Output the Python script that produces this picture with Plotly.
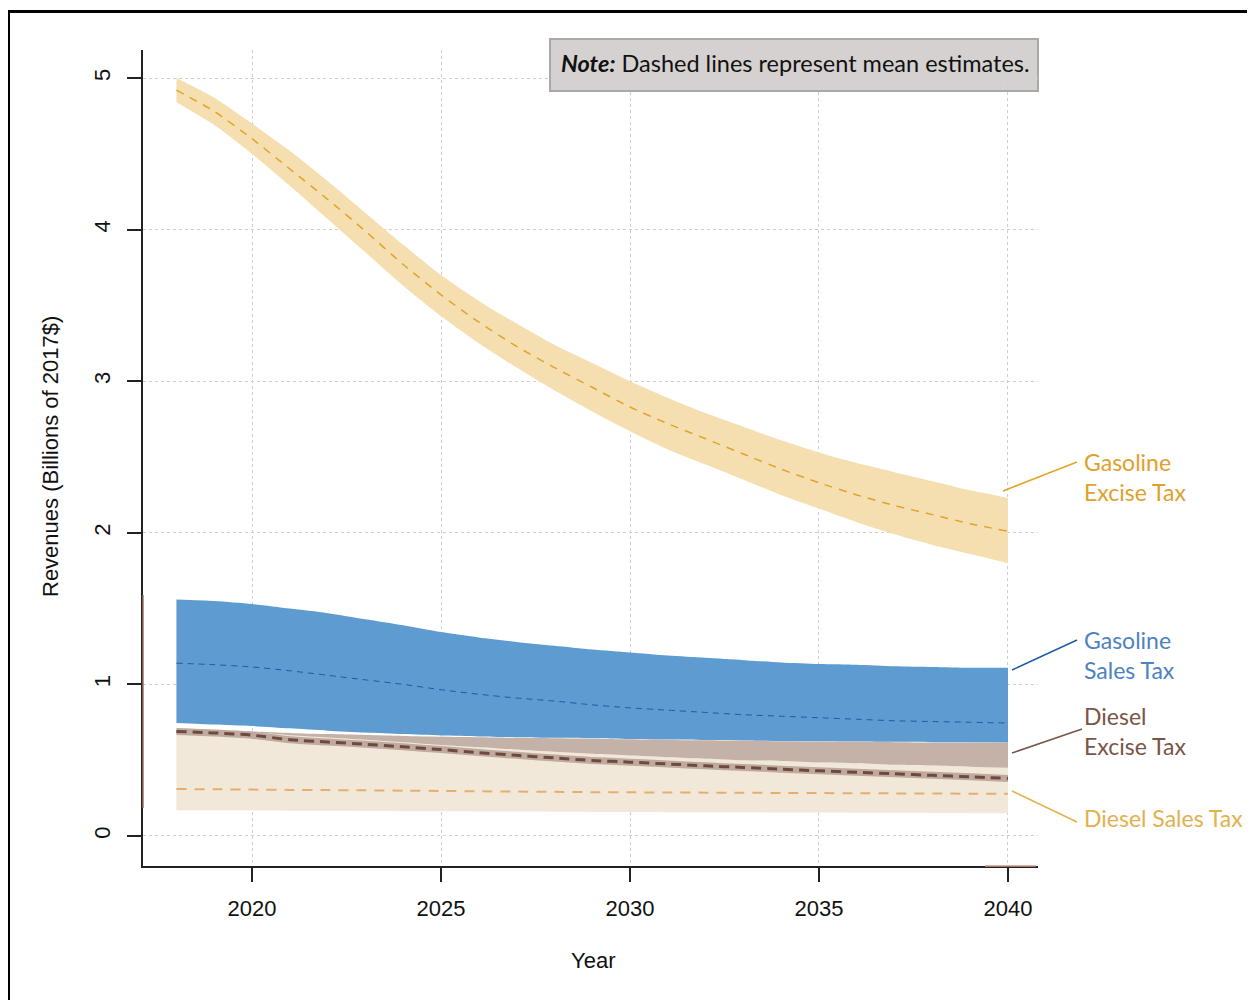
import plotly.graph_objects as go

# ---------------- data ----------------
years = list(range(2018, 2041))

gas_excise_mean = [4.92, 4.78, 4.60, 4.40, 4.20, 3.99, 3.77, 3.57, 3.39, 3.23, 3.09, 2.96,
                   2.83, 2.72, 2.62, 2.52, 2.42, 2.33, 2.25, 2.18, 2.12, 2.06, 2.01]
gas_excise_hi = [5.00, 4.87, 4.70, 4.52, 4.32, 4.11, 3.90, 3.70, 3.53, 3.38, 3.24, 3.12,
                 3.00, 2.89, 2.79, 2.70, 2.61, 2.53, 2.46, 2.40, 2.34, 2.28, 2.23]
gas_excise_lo = [4.84, 4.69, 4.50, 4.29, 4.07, 3.85, 3.63, 3.43, 3.25, 3.09, 2.94, 2.80,
                 2.67, 2.55, 2.45, 2.35, 2.25, 2.16, 2.07, 1.99, 1.92, 1.86, 1.80]

gas_sales_mean = [1.14, 1.13, 1.115, 1.09, 1.06, 1.03, 1.00, 0.965, 0.935, 0.91, 0.89, 0.865,
                  0.845, 0.83, 0.815, 0.80, 0.79, 0.78, 0.77, 0.76, 0.755, 0.75, 0.745]
gas_sales_hi = [1.56, 1.55, 1.53, 1.50, 1.47, 1.43, 1.39, 1.345, 1.31, 1.28, 1.255, 1.23,
                1.21, 1.19, 1.175, 1.16, 1.145, 1.135, 1.13, 1.12, 1.115, 1.11, 1.11]
gas_sales_lo = [0.745, 0.735, 0.725, 0.71, 0.695, 0.683, 0.672, 0.663, 0.657, 0.652, 0.648, 0.645,
                0.64, 0.636, 0.633, 0.63, 0.627, 0.625, 0.623, 0.621, 0.619, 0.618, 0.617]

diesel_excise_mean = [0.69, 0.68, 0.665, 0.635, 0.62, 0.605, 0.588, 0.57, 0.55, 0.532, 0.515, 0.498,
                      0.487, 0.475, 0.463, 0.452, 0.441, 0.43, 0.42, 0.41, 0.40, 0.39, 0.38]
diesel_excise_hi = [0.71, 0.70, 0.69, 0.68, 0.672, 0.666, 0.66, 0.655, 0.652, 0.648, 0.645, 0.642,
                    0.638, 0.634, 0.631, 0.628, 0.625, 0.623, 0.621, 0.619, 0.617, 0.616, 0.615]

diesel_sales_mean = [0.31, 0.308, 0.306, 0.304, 0.303, 0.301, 0.299, 0.297, 0.295, 0.293, 0.291, 0.289,
                     0.288, 0.287, 0.286, 0.285, 0.284, 0.283, 0.282, 0.281, 0.28, 0.279, 0.278]
diesel_sales_hi = [0.71, 0.70, 0.685, 0.665, 0.65, 0.635, 0.618, 0.60, 0.585, 0.57, 0.555, 0.542,
                   0.531, 0.52, 0.51, 0.50, 0.495, 0.485, 0.48, 0.47, 0.465, 0.457, 0.45]
diesel_sales_lo = [0.170, 0.169, 0.168, 0.167, 0.166, 0.165, 0.164, 0.163, 0.162, 0.161, 0.160, 0.159,
                   0.158, 0.157, 0.156, 0.156, 0.155, 0.155, 0.154, 0.153, 0.152, 0.151, 0.150]

x_ticks = [2020, 2025, 2030, 2035, 2040]
y_ticks = [0, 1, 2, 3, 4, 5]

series_labels = ["Gasoline<br>Excise Tax", "Gasoline<br>Sales Tax", "Diesel<br>Excise Tax", "Diesel Sales Tax"]
note_text = "<b><i>Note:</i></b> Dashed lines represent mean estimates."

# ---------------- styling ----------------
C_GE_BAND, C_GE_LINE, C_GE_TXT = "#f5dfb0", "#e3a32a", "#e0a02c"
C_GS_BAND, C_GS_LINE, C_GS_TXT = "#5d9bd0", "#1f5aa8", "#4d82c0"
C_DE_BAND, C_DE_LINE, C_DE_TXT = "#c4b1a8", "#6e4a3e", "#7a5446"
C_DS_BAND, C_DS_LINE, C_DS_TXT = "#f2e8da", "#e6ae6c", "#e3b04e"

# the page body adds an 8px offset; work in screenshot pixels and shift
OFF = 8
W, H = 1255 - OFF, 1000 - OFF
ML, MR, MT, MB = 143 - OFF, (1255 - 1038), 50 - OFF, (1000 - 866)
PW, PH = W - ML - MR, H - MT - MB


def px(xs):
    return (xs - OFF - ML) / PW


def py(ys):
    return (H - MB - (ys - OFF)) / PH


fig = go.Figure()
SMOOTH = dict(shape="spline", smoothing=0.7)


def add_band(lo, hi, color):
    fig.add_trace(go.Scatter(x=years, y=lo, mode="lines", line=dict(width=0, color=color, **SMOOTH),
                             hoverinfo="skip", showlegend=False))
    fig.add_trace(go.Scatter(x=years, y=hi, mode="lines", line=dict(width=0, color=color, **SMOOTH),
                             fill="tonexty", fillcolor=color, hoverinfo="skip", showlegend=False))


def add_line(y, color, width, dash):
    fig.add_trace(go.Scatter(x=years, y=y, mode="lines",
                             line=dict(color=color, width=width, dash=dash, **SMOOTH),
                             hoverinfo="skip", showlegend=False))


# gasoline excise
add_band(gas_excise_lo, gas_excise_hi, C_GE_BAND)
add_line(gas_excise_mean, C_GE_LINE, 1.5, "8px,7px")
# gasoline sales
add_band(gas_sales_lo, gas_sales_hi, C_GS_BAND)
# diesel sales band, diesel excise band on top of it
fig.add_trace(go.Scatter(x=years, y=diesel_sales_lo, mode="lines",
                         line=dict(width=0, color=C_DS_BAND, **SMOOTH),
                         hoverinfo="skip", showlegend=False))
fig.add_trace(go.Scatter(x=years, y=diesel_sales_hi, mode="lines",
                         line=dict(width=0, color=C_DS_BAND, **SMOOTH),
                         fill="tonexty", fillcolor=C_DS_BAND, hoverinfo="skip", showlegend=False))
fig.add_trace(go.Scatter(x=years, y=diesel_excise_hi, mode="lines",
                         line=dict(width=0, color=C_DE_BAND, **SMOOTH),
                         fill="tonexty", fillcolor=C_DE_BAND, hoverinfo="skip", showlegend=False))
# mean lines
add_line(diesel_sales_mean, C_DS_LINE, 2, "10px,8px")
add_line(diesel_excise_mean, "#bfaaa0", 7, "solid")
add_line(diesel_excise_mean, C_DE_LINE, 3, "10px,6px")
add_line(gas_sales_mean, C_GS_LINE, 1, "6px,5px")

axis_font = dict(family="Liberation Sans, Arial, sans-serif", size=22, color="#111")
label_font = "Lato, Noto Sans, sans-serif"

fig.update_layout(
    width=W, height=H, autosize=False,
    margin=dict(l=ML, r=MR, t=MT, b=MB),
    paper_bgcolor="white", plot_bgcolor="white",
    showlegend=False,
    xaxis=dict(range=[2017.116, 2040.794], tickvals=x_ticks, ticktext=[str(v) for v in x_ticks],
               showgrid=True, gridcolor="#cfcfcf", griddash="dot", gridwidth=1,
               zeroline=False, showline=True, linecolor="#222", linewidth=1.5,
               ticks="outside", ticklen=14, tickwidth=1.5, tickcolor="#222",
               tickfont=axis_font, ticklabelstandoff=8),
    yaxis=dict(range=[-0.198, 5.185], tickvals=y_ticks, ticktext=[str(v) for v in y_ticks],
               showgrid=True, gridcolor="#cfcfcf", griddash="dot", gridwidth=1,
               zeroline=False, showline=True, linecolor="#222", linewidth=1.5,
               ticks="outside", ticklen=14, tickwidth=1.5, tickcolor="#222",
               tickfont=axis_font, tickangle=-90, ticklabelstandoff=8),
)

shapes = []
# outer frame
shapes.append(dict(type="rect", xref="paper", yref="paper",
                   x0=px(8.5), x1=px(1290), y0=py(1030), y1=py(11.5),
                   line=dict(color="black", width=3), fillcolor="rgba(0,0,0,0)", layer="above"))
# note box
shapes.append(dict(type="rect", xref="paper", yref="paper",
                   x0=px(550), x1=px(1038), y0=py(91), y1=py(39),
                   line=dict(color="#a9a9a9", width=2), fillcolor="#d5d1d0", layer="below"))
# brownish artifact over the y axis and x axis end
shapes.append(dict(type="line", xref="paper", yref="paper",
                   x0=0, x1=0, y0=py(808), y1=py(595),
                   line=dict(color="#9a7466", width=1.5), layer="above"))
shapes.append(dict(type="line", xref="paper", yref="paper",
                   x0=px(985), x1=px(1036), y0=0, y1=0,
                   line=dict(color="#c99a88", width=1.5), layer="above"))
# leader lines
leaders = [((1003, 491), (1077, 462), C_GE_LINE),
           ((1012, 670), (1077, 640), C_GS_LINE),
           ((1012, 753), (1082, 729), C_DE_TXT),
           ((1012, 791), (1077, 822), C_DS_TXT)]
for (a, b, c) in leaders:
    shapes.append(dict(type="line", xref="paper", yref="paper",
                       x0=px(a[0]), y0=py(a[1]), x1=px(b[0]), y1=py(b[1]),
                       line=dict(color=c, width=1.5), layer="above"))
fig.update_layout(shapes=shapes)

annotations = []
annotations.append(dict(xref="paper", yref="paper", x=px(795), y=py(63), text=note_text,
                        showarrow=False, xanchor="center", yanchor="middle",
                        font=dict(family=label_font, size=23.5, color="#111")))
label_pos = [(1082, 477, C_GE_TXT), (1082, 655, C_GS_TXT), (1082, 731, C_DE_TXT), (1082, 818, C_DS_TXT)]
for txt, (lx, ly, c) in zip(series_labels, label_pos):
    annotations.append(dict(xref="paper", yref="paper", x=px(lx), y=py(ly), text=txt,
                            showarrow=False, xanchor="left", yanchor="middle", align="left",
                            font=dict(family=label_font, size=23, color=c)))
# axis titles
annotations.append(dict(xref="paper", yref="paper", x=px(593), y=py(960), text="Year",
                        showarrow=False, xanchor="center", yanchor="middle", font=axis_font))
annotations.append(dict(xref="paper", yref="paper", x=px(50), y=py(457),
                        text="Revenues (Billions of 2017$)", textangle=-90,
                        showarrow=False, xanchor="center", yanchor="middle", font=axis_font))
fig.update_layout(annotations=annotations)

fig.write_html("out.html")
